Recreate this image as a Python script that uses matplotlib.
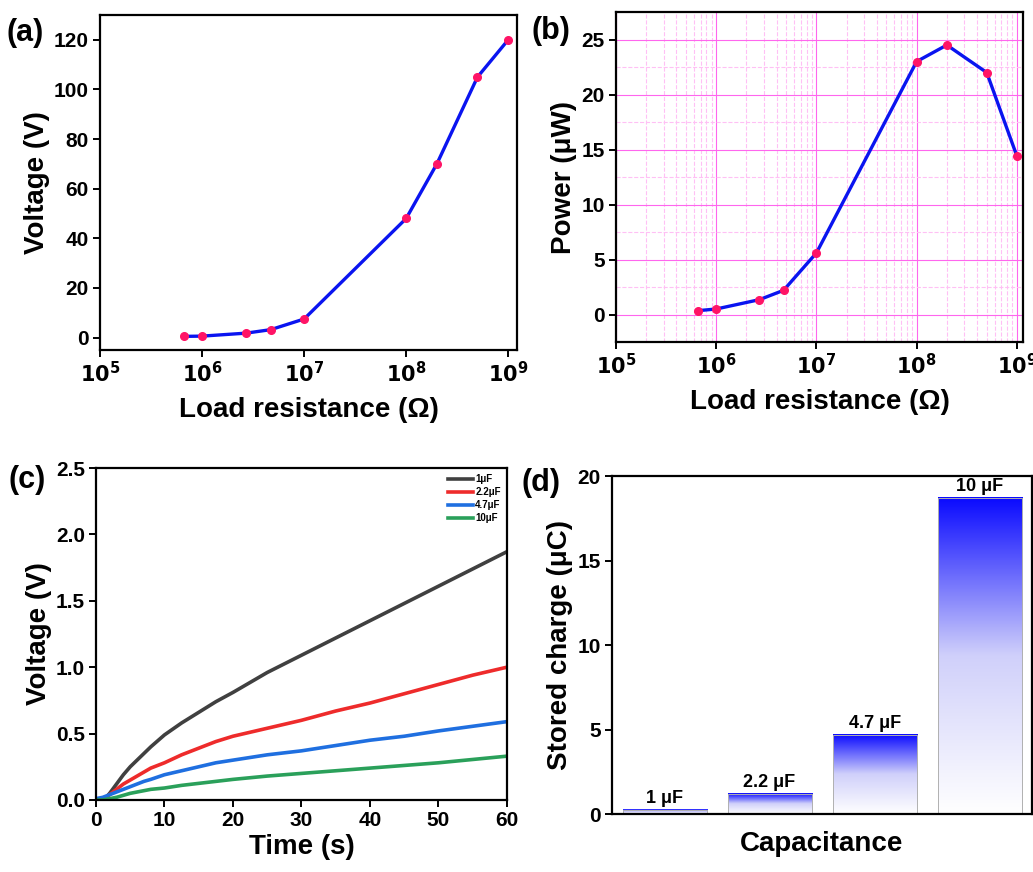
import numpy as np
import matplotlib
matplotlib.use("Agg")
import matplotlib.pyplot as plt
from matplotlib.colors import LinearSegmentedColormap
from matplotlib.ticker import LogLocator, FixedLocator, NullFormatter

plt.rcParams["font.family"] = ["Liberation Sans", "DejaVu Sans"]
plt.rcParams["font.weight"] = "bold"
plt.rcParams["mathtext.default"] = "bf"
plt.rcParams["axes.linewidth"] = 1.6

# (a)/(b) load resistance sweep
resistance = [6.6e5, 1e6, 2.7e6, 4.7e6, 1e7, 1e8, 2e8, 5e8, 1e9]
voltage = [0.5, 0.6, 1.8, 3.2, 7.5, 48, 70, 105, 120]
power = [0.35, 0.5, 1.35, 2.2, 5.6, 23.0, 24.5, 22.0, 14.4]

# (c) charging curves
t_s = [0, 1, 1.5, 2, 3, 4, 5, 6, 7, 8, 10, 12.5, 15, 17.5, 20, 25, 30, 35, 40, 45, 50, 55, 60]
v_1uF = [0, 0, 0.02, 0.05, 0.12, 0.19, 0.25, 0.30, 0.35, 0.40, 0.49, 0.58, 0.66, 0.74,
         0.81, 0.96, 1.09, 1.22, 1.35, 1.48, 1.61, 1.74, 1.87]
v_2_2uF = [0, 0.01, 0.02, 0.04, 0.08, 0.12, 0.15, 0.18, 0.21, 0.24, 0.28, 0.34, 0.39, 0.44,
           0.48, 0.54, 0.60, 0.67, 0.73, 0.80, 0.87, 0.94, 1.0]
v_4_7uF = [0.01, 0.02, 0.03, 0.04, 0.06, 0.08, 0.10, 0.12, 0.14, 0.155, 0.19, 0.22, 0.25, 0.28,
           0.30, 0.34, 0.37, 0.41, 0.45, 0.48, 0.52, 0.555, 0.59]
v_10uF = [0, 0, 0.005, 0.01, 0.02, 0.035, 0.05, 0.06, 0.07, 0.08, 0.09, 0.11, 0.125, 0.14,
          0.155, 0.18, 0.20, 0.22, 0.24, 0.26, 0.28, 0.305, 0.33]
curve_labels = ["1μF", "2.2μF", "4.7μF", "10μF"]
curve_colors = ["#404040", "#ee2b2b", "#1f6fe0", "#2aa05a"]

# (d) stored charge
cap_labels = ["1 μF", "2.2 μF", "4.7 μF", "10 μF"]
charge = [0.25, 1.2, 4.7, 18.7]

LINE = "#0a14f0"
MARK = "#ff1466"
TICK_FS = 15
LAB_FS = 20

fig = plt.figure(figsize=(10.33, 8.72), dpi=100)


def style(ax):
    ax.tick_params(axis="both", which="major", direction="out", length=5, width=1.4,
                   labelsize=TICK_FS, pad=3)
    for lab in ax.get_xticklabels() + ax.get_yticklabels():
        lab.set_fontweight("bold")


def logx(ax, right):
    ax.set_xscale("log")
    ax.set_xlim(1e5, right)
    ax.xaxis.set_major_locator(FixedLocator([1e5, 1e6, 1e7, 1e8, 1e9]))
    ax.xaxis.set_major_formatter(plt.FuncFormatter(
        lambda v, p: r"$10^{%d}$" % round(np.log10(v))))
    ax.xaxis.set_minor_locator(LogLocator(base=10, subs=np.arange(2, 10)))
    ax.xaxis.set_minor_formatter(NullFormatter())
    ax.tick_params(axis="x", which="minor", length=0)


# (a)
ax1 = fig.add_axes([0.0968, 0.5986, 0.4037, 0.3842])
ax1.plot(resistance, voltage, color=LINE, lw=2.4, marker="o", ms=5.5,
         mfc=MARK, mec=MARK, zorder=3)
logx(ax1, 1.22e9)
ax1.set_ylim(-5, 130)
ax1.set_yticks(range(0, 121, 20))
ax1.set_ylabel("Voltage (V)", fontsize=LAB_FS, fontweight="bold", labelpad=3)
ax1.set_xlabel("Load resistance (Ω)", fontsize=LAB_FS, fontweight="bold", labelpad=8)
style(ax1)

# (b)
ax2 = fig.add_axes([0.5963, 0.6078, 0.394, 0.3784])
ax2.plot(resistance, power, color=LINE, lw=2.4, marker="o", ms=5.5,
         mfc=MARK, mec=MARK, zorder=3)
logx(ax2, 1.15e9)
ax2.set_ylim(-2.5, 27.5)
ax2.set_yticks(range(0, 26, 5))
ax2.set_yticks(np.arange(2.5, 27.5, 5), minor=True)
ax2.tick_params(axis="y", which="minor", length=0)
ax2.grid(True, which="major", color="#ff66ee", lw=0.8, ls="-")
ax2.grid(True, which="minor", color="#ffc0f5", lw=0.8, ls="--")
ax2.set_axisbelow(True)
ax2.set_ylabel("Power (μW)", fontsize=LAB_FS, fontweight="bold", labelpad=3)
ax2.set_xlabel("Load resistance (Ω)", fontsize=LAB_FS, fontweight="bold", labelpad=8)
style(ax2)

# (c)
ax3 = fig.add_axes([0.0929, 0.0826, 0.3979, 0.3807])
for ys, lab, c in zip([v_1uF, v_2_2uF, v_4_7uF, v_10uF], curve_labels, curve_colors):
    ax3.plot(t_s, ys, color=c, lw=2.6, label=lab)
ax3.set_xlim(0, 60)
ax3.set_ylim(0, 2.5)
ax3.set_xticks(range(0, 61, 10))
ax3.set_yticks(np.arange(0, 2.51, 0.5))
ax3.yaxis.set_major_formatter(plt.FuncFormatter(lambda v, p: f"{v:.1f}"))
ax3.set_ylabel("Voltage (V)", fontsize=LAB_FS, fontweight="bold", labelpad=3)
ax3.set_xlabel("Time (s)", fontsize=LAB_FS, fontweight="bold", labelpad=3)
leg = ax3.legend(loc="upper right", frameon=False, fontsize=7, handlelength=2.6,
                 handletextpad=0.2, labelspacing=0.3, borderaxespad=0.25)
for txt in leg.get_texts():
    txt.set_fontweight("bold")
style(ax3)

# (d) gradient-filled bars
ax4 = fig.add_axes([0.5925, 0.0665, 0.4066, 0.3876])
cmap = LinearSegmentedColormap.from_list("wb", ["#ffffff", "#d0d0fa", "#0a0aff"])
grad = np.linspace(0, 1, 256).reshape(-1, 1)
xpos = np.arange(len(charge))
bw = 0.8
for x, h, lab in zip(xpos, charge, cap_labels):
    ax4.imshow(grad, cmap=cmap, origin="lower", aspect="auto",
               extent=[x - bw / 2, x + bw / 2, 0, h], zorder=1)
    ax4.bar(x, h, width=bw, fill=False, edgecolor="#b0b0b0", lw=0.7, zorder=2)
    ax4.text(x, h + 0.15, lab, ha="center", va="bottom", fontsize=13, fontweight="bold")
ax4.set_xlim(-0.5, 3.5)
ax4.set_ylim(0, 20)
ax4.set_xticks([])
ax4.set_yticks(range(0, 21, 5))
ax4.set_ylabel("Stored charge (μC)", fontsize=LAB_FS, fontweight="bold", labelpad=3)
ax4.set_xlabel("Capacitance", fontsize=LAB_FS, fontweight="bold", labelpad=12)
style(ax4)

for x, y, s in [(0.006, 0.962, "(a)"), (0.515, 0.965, "(b)"),
                (0.008, 0.449, "(c)"), (0.505, 0.446, "(d)")]:
    fig.text(x, y, s, fontsize=22, fontweight="bold", va="center", ha="left")

fig.savefig("out.png", dpi=100)
